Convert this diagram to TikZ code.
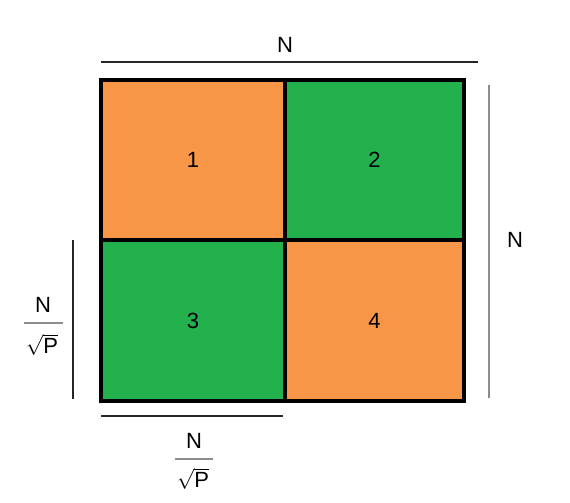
\documentclass[tikz,border=0pt]{standalone}
\usepackage{fontspec}
\setmainfont{Liberation Sans}
\setmathrm{Liberation Sans}
\definecolor{corange}{HTML}{F79646}
\definecolor{cgreen}{HTML}{23B14D}
\definecolor{dimgray}{HTML}{8C8C8C}
\begin{document}
\begin{tikzpicture}[x=1pt,y=-1pt,
  cell/.style={draw=black,line width=4pt,inner sep=0pt,font=\fontsize{22}{26}\selectfont},
  lbl/.style={inner sep=0pt,font=\fontsize{22}{26}\selectfont},
  dim/.style={line width=1.2pt},
  bar/.style={draw=dimgray,line width=1.8pt}]
\useasboundingbox (0,0) rectangle (570,503);
\fill[white] (0,0) rectangle (570,503);
% cells
\node[cell,fill=corange,minimum width=184pt,minimum height=160.5pt] (c1) at (193,159.75) {1};
\node[cell,fill=cgreen,minimum width=179pt,minimum height=160.5pt] (c2) at (374.5,159.75) {2};
\node[cell,fill=cgreen,minimum width=184pt,minimum height=161pt] (c3) at (193,320.5) {3};
\node[cell,fill=corange,minimum width=179pt,minimum height=161pt] (c4) at (374.5,320.5) {4};
% dimension lines
\coordinate (t1) at (101,62); \coordinate (t2) at (478,62);
\draw[dim,black!85] (t1) -- (t2);
\node[lbl] (nt) at (285,45) {N};
\coordinate (r1) at (489,85); \coordinate (r2) at (489,398);
\draw[dim,dimgray] (r1) -- (r2);
\node[lbl] (nr) at (515,240) {N};
\coordinate (l1) at (73,240); \coordinate (l2) at (73,399);
\draw[dim,black!85] (l1) -- (l2);
\coordinate (b1) at (101,416); \coordinate (b2) at (283,416);
\draw[dim,black!85] (b1) -- (b2);
% left fraction
\node[lbl] (lfn) at (43,305) {N};
\coordinate (lf1) at (24,323); \coordinate (lf2) at (63,323);
\draw[bar] (lf1) -- (lf2);
\node[lbl] (lfp) at (42,345) {$\sqrt{\mathrm{P}}$};
% bottom fraction
\node[lbl] (bfn) at (194,441) {N};
\coordinate (bf1) at (175,459); \coordinate (bf2) at (213,459);
\draw[bar] (bf1) -- (bf2);
\node[lbl] (bfp) at (193,479) {$\sqrt{\mathrm{P}}$};
\end{tikzpicture}
\end{document}
